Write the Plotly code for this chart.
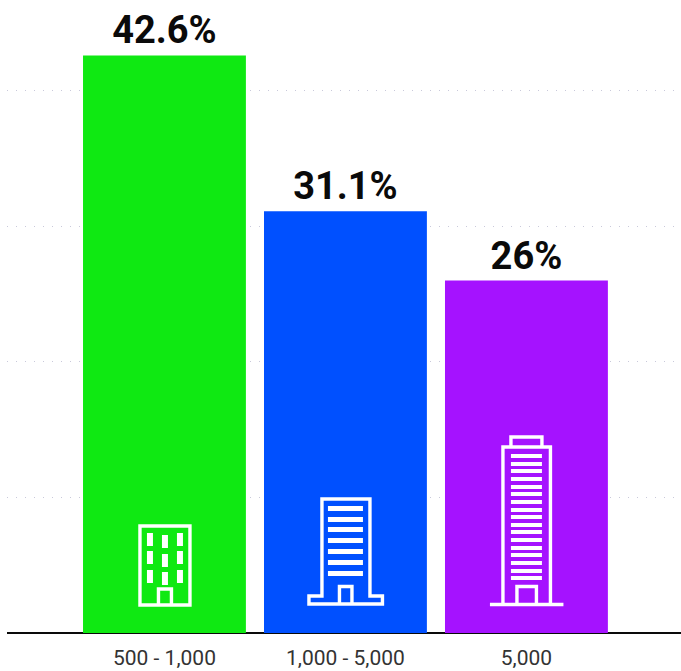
import plotly.graph_objects as go

# Share of respondents by company size
categories = ["500 - 1,000", "1,000 - 5,000", "5,000"]
values = [42.6, 31.1, 26]
colors = ["#0FE912", "#0050FF", "#A512FF"]
grid_values = [10, 20, 30, 40]

WHITE = "#FFFFFF"


def outline(anchor, points, closed=True, width=3.4):
    """White building outline; points are pixel offsets from the bar's base centre."""
    d = "M" + " L".join(f"{x},{y}" for x, y in points) + (" Z" if closed else "")
    return dict(type="path", path=d, xref="x", yref="y", xsizemode="pixel", ysizemode="pixel",
                xanchor=anchor, yanchor=0, line=dict(color=WHITE, width=width), layer="above")


def block(anchor, x0, x1, y0, y1):
    """Solid white window or floor strip, in pixel offsets from the bar's base centre."""
    return dict(type="rect", xref="x", yref="y", xsizemode="pixel", ysizemode="pixel",
                xanchor=anchor, yanchor=0, x0=x0, x1=x1, y0=y0, y1=y1,
                fillcolor=WHITE, line=dict(width=0), layer="above")


shapes = []

# Low-rise office block
shapes.append(outline(0, [(-24.5, 28), (-24.5, 107), (25.5, 107), (25.5, 28)]))
shapes.append(outline(0, [(-6, 28), (-6, 44), (7, 44), (7, 28)], closed=False))
for cx, tops in [(-14.5, (100, 82, 63)), (0.5, (98, 79, 61)), (15.5, (100, 82, 63))]:
    for top in tops:
        shapes.append(block(0, cx - 3, cx + 3, top - 13, top))

# Mid-rise tower with a wide foot
shapes.append(outline(1, [(-23.5, 37), (-23.5, 134), (24.5, 134), (24.5, 37), (37, 37),
                          (37, 29), (-36.5, 29), (-36.5, 37)]))
shapes.append(outline(1, [(-6, 29), (-6, 46.5), (6.5, 46.5), (6.5, 29)], closed=False))
for top in (127, 116, 106, 95, 84, 73, 62):
    shapes.append(block(1, -17.5, 17.5, top - 5, top))

# High-rise tower with roof cap
shapes.append(outline(2, [(-23.5, 28.5), (-23.5, 186), (24, 186), (24, 28.5)], closed=False))
shapes.append(outline(2, [(-15.5, 186), (-15.5, 196), (15.5, 196), (15.5, 186)], closed=False))
shapes.append(outline(2, [(-9.5, 28.5), (-9.5, 46.5), (10, 46.5), (10, 28.5)], closed=False))
shapes.append(outline(2, [(-36.5, 28.5), (37, 28.5)], closed=False))
for top in (179, 171, 164, 156, 148, 141, 133, 125, 118, 110, 103, 95, 87, 80, 72, 64, 57):
    shapes.append(block(2, -15.5, 15.5, top - 4, top))

fig = go.Figure(
    go.Bar(
        x=categories,
        y=values,
        marker=dict(color=colors, line=dict(width=0)),
        text=[f"{v:g}%" for v in values],
        textposition="outside",
        textangle=0,
        cliponaxis=False,
        textfont=dict(family="Roboto", size=38, color="#0A0A0A", weight="bold"),
        hoverinfo="x+y",
    )
)

fig.update_layout(
    width=681,
    height=671,
    margin=dict(l=7, r=0, t=0, b=38),
    paper_bgcolor="white",
    plot_bgcolor="white",
    showlegend=False,
    bargap=0.1,
    shapes=shapes,
)
fig.update_xaxes(
    type="category",
    range=[-0.87, 2.854],
    showgrid=False,
    ticks="",
    ticklabelstandoff=10,
    tickfont=dict(family="Roboto", size=21, color="#333333"),
    showline=False,
    fixedrange=True,
)
fig.update_yaxes(
    range=[0, 46.69],
    tickvals=grid_values,
    showticklabels=False,
    ticks="",
    showgrid=True,
    gridcolor="#C9C9DA",
    gridwidth=1,
    griddash="1px,8px",
    zeroline=True,
    zerolinecolor="#0A0A0A",
    zerolinewidth=2,
    fixedrange=True,
)

fig.write_html("out.html", config=dict(displayModeBar=False))
